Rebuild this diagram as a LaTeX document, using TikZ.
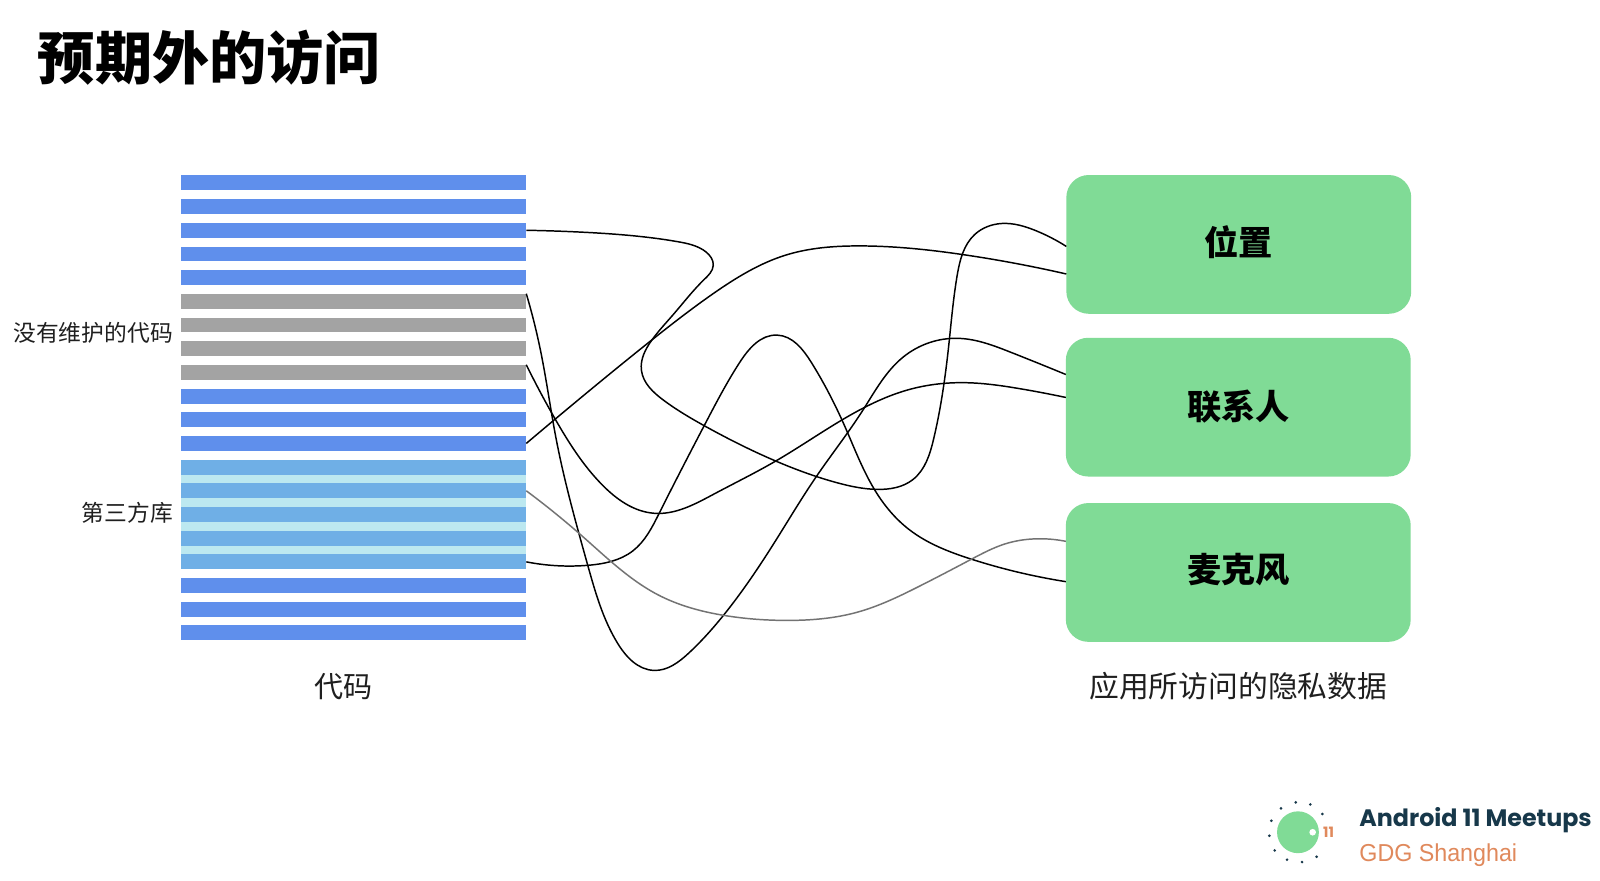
\documentclass[tikz,border=0pt]{standalone}
\usepackage{fontspec}
\usetikzlibrary{hobby}
\newfontfamily\cjk{Noto Sans CJK SC}
\newfontfamily\logoa{Poppins}
\newfontfamily\logob[FakeStretch=0.95]{Liberation Sans}
\definecolor{barblue}{HTML}{5F8FEC}
\definecolor{bargray}{HTML}{A3A3A3}
\definecolor{barlib}{HTML}{6FAFE6}
\definecolor{barpale}{HTML}{BCE8F0}
\definecolor{boxgreen}{HTML}{80DB96}
\definecolor{logodark}{HTML}{17384A}
\definecolor{logoorange}{HTML}{E0895C}
\tikzset{
  bar/.style={rectangle,draw=none,inner sep=0,minimum width=338.5pt,minimum height=14.6pt},
  datab/.style={rectangle,rounded corners=22pt,fill=boxgreen,draw=none,inner sep=0,minimum width=338pt,minimum height=136pt,font=\cjk\bfseries\fontsize{33.5}{36}\selectfont},
  lab/.style={inner sep=0,text=black!88,font=\cjk},
  link/.style={line width=1.45pt,black,use Hobby shortcut},
  linkg/.style={line width=1.45pt,black!55,use Hobby shortcut},
  dotm/.style={circle,fill=logodark,draw=none,inner sep=0,minimum size=2.8pt}
}
\begin{document}
\begin{tikzpicture}[x=1pt,y=-1pt]
\useasboundingbox[fill=white] (0,0) rectangle (1568,862.4);
\node[lab,anchor=west,text=black,font=\cjk\bfseries\fontsize{56}{60}\selectfont] (title) at (37,57) {预期外的访问};
\node[rectangle,fill=barpale,inner sep=0,minimum width=338.5pt,minimum height=107pt] (libback) at (346.3,504.5) {};
\foreach \i/\c in {1/barblue,2/barblue,3/barblue,4/barblue,5/barblue,6/bargray,7/bargray,8/bargray,9/bargray,10/barblue,11/barblue,12/barblue,13/barlib,14/barlib,15/barlib,16/barlib,17/barlib,18/barblue,19/barblue,20/barblue}{
  \pgfmathsetmacro{\yy}{172+(\i-1)*23.21+7.25}
  \node[bar,fill=\c] (b\i) at (346.3,\yy) {};
}
\node[lab,anchor=east,font=\cjk\fontsize{22.3}{24}\selectfont] (lunmaintained) at (169.5,326) {没有维护的代码};
\node[lab,anchor=east,font=\cjk\fontsize{22.3}{24}\selectfont] (lthird) at (169.5,503) {第三方库};
\node[lab,font=\cjk\fontsize{28.5}{30}\selectfont] (lcode) at (336.5,672.5) {代码};
\node[lab,font=\cjk\fontsize{29.2}{31}\selectfont] (lpriv) at (1213.5,672.5) {应用所访问的隐私数据};
\node[datab] (pos) at (1214,239.5) {\raisebox{-11.2pt}[0pt][0pt]{位置}};
\node[datab] (con) at (1213.5,399) {\raisebox{-11.7pt}[0pt][0pt]{联系人}};
\node[datab] (mic) at (1213.5,561) {\raisebox{-9.7pt}[0pt][0pt]{麦克风}};
\coordinate (p1) at (1045,241.5);
\coordinate (p2) at (1045,268.5);
\coordinate (c1) at (1044.5,367);
\coordinate (c2) at (1044.5,389.5);
\coordinate (m1) at (1044.5,530.5);
\coordinate (m2) at (1044.5,570);
\draw[link] (b3.east) .. (570,227.5) .. (620,231) .. (665,237) .. (692,247) .. (699,260) .. (690,274) .. (660,308) .. (639,333) .. (628.6,363) .. (650,392) .. (691.6,418) .. (761.6,452.4) .. (820,473) .. (859.6,479.6) .. (894.6,470) .. (915,430) .. (929.6,340) .. (938,270) .. (955,230) .. (982,219) .. (1015,226) .. (p1);
\draw[link] (b12.east) .. (575,385) .. (639,333) .. (700,287) .. (770,250) .. (842,241) .. (947,250) .. (p2);
\draw[link] (b6.north east) .. (530,345) .. (545,430) .. (576,554) .. (605,630) .. (641,657) .. (675,640) .. (709,603) .. (760,530) .. (800,467) .. (845.6,402) .. (885,350) .. (940,331.6) .. (990,345) .. (c1);
\draw[link] (b9.north east) .. (544.6,411.6) .. (590,475) .. (641,503) .. (700,484) .. (759.9,452) .. (842,402) .. (890,382) .. (943.6,375) .. (1000,381) .. (c2);
\draw[link] (b17.east) .. (576,554) .. (620,540) .. (646,503) .. (693,411.6) .. (725,355) .. (761.6,328.4) .. (795,355) .. (828,418) .. (859.6,484) .. (891,519) .. (952,548) .. (m2);
\draw[linkg] (b14.east) .. (569,524) .. (599,550.5) .. (645,583) .. (709,603) .. (772,608) .. (840,600) .. (900,575) .. (952,548) .. (985,533) .. (1017,528) .. (m1);
\node[circle,fill=boxgreen,inner sep=0,minimum size=41pt] (lc) at (1272,815.6) {};
\node[circle,fill=white,inner sep=0,minimum size=6.5pt] (lw) at (1286.4,815.6) {};
\node[inner sep=0,text=logoorange,font=\logoa\bfseries\fontsize{14}{15}\selectfont] (l11) at (1302,815.6) {11};
\foreach \n/\a/\b in {1/1269.8/786.3,2/1284.1/788.3,3/1295.9/797.7,4/1255.4/792.2,5/1245.9/804.3,6/1244/819,7/1249.2/833.4,8/1261.3/842.5,9/1276/844.8,10/1290.3/839.6}{
  \node[dotm] (ld\n) at (\a,\b) {};
}
\node[inner sep=0,anchor=west,text=logodark,font=\logoa\bfseries\fontsize{23.3}{25}\selectfont] (la) at (1332,804) {Android 11 Meetups};
\node[inner sep=0,anchor=west,text=logoorange,font=\logob\fontsize{24}{26}\selectfont] (lg) at (1332,838) {GDG Shanghai};
\end{tikzpicture}
\end{document}
